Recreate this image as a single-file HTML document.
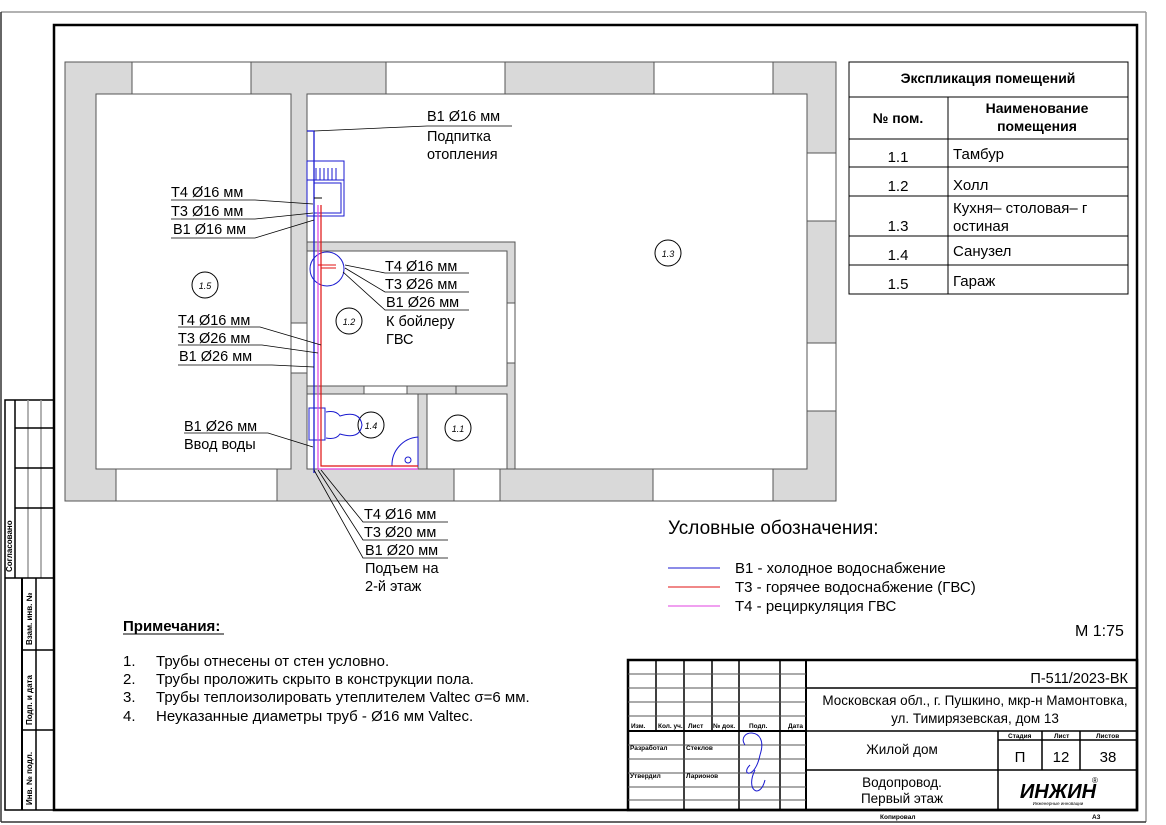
<!DOCTYPE html>
<html><head><meta charset="utf-8"><style>
html,body{margin:0;padding:0;background:#fff}
svg{display:block}
text{font-family:"Liberation Sans",sans-serif;fill:#000}
</style></head><body>
<svg width="1166" height="825" viewBox="0 0 1166 825" xmlns="http://www.w3.org/2000/svg">
<line x1="1" y1="12" x2="1146" y2="12" stroke="#999" stroke-width="1.5"/>
<line x1="1146" y1="12" x2="1146" y2="822" stroke="#999" stroke-width="1.5"/>
<line x1="1" y1="12" x2="1" y2="822" stroke="#333" stroke-width="1.5"/>
<line x1="1" y1="822" x2="1146" y2="822" stroke="#333" stroke-width="1.5"/>
<rect x="54" y="25" width="1083" height="785" fill="none" stroke="#000" stroke-width="2.5"/>
<g stroke="#000" fill="none" stroke-width="1.5">
<rect x="5" y="400" width="49" height="410"/>
<line x1="15" y1="400" x2="15" y2="578"/>
<line x1="28" y1="400" x2="28" y2="578" stroke="#999"/>
<line x1="41" y1="400" x2="41" y2="578" stroke="#999"/>
<line x1="15" y1="428" x2="54" y2="428"/>
<line x1="15" y1="468" x2="54" y2="468"/>
<line x1="15" y1="508" x2="54" y2="508"/>
<line x1="5" y1="578" x2="54" y2="578"/>
<line x1="22" y1="578" x2="22" y2="810" stroke-width="2"/>
<line x1="36" y1="578" x2="36" y2="810"/>
<line x1="22" y1="650" x2="54" y2="650"/>
<line x1="22" y1="730" x2="54" y2="730"/>
</g>
<g font-size="8" font-weight="bold">
<text transform="translate(12,572) rotate(-90)">Согласовано</text>
<text transform="translate(32,645) rotate(-90)">Взам. инв. №</text>
<text transform="translate(32,725) rotate(-90)">Подп. и дата</text>
<text transform="translate(32,805) rotate(-90)">Инв. № подл.</text>
</g>

<rect x="65" y="62" width="771" height="439" fill="#d9d9d9" stroke="#555" stroke-width="1"/>
<g fill="#fff" stroke="#555" stroke-width="1">
<rect x="132" y="62" width="119" height="32"/>
<rect x="386" y="62" width="119" height="32"/>
<rect x="654" y="62" width="119" height="32"/>
<rect x="116" y="469" width="161" height="32"/>
<rect x="454" y="469" width="46" height="32"/>
<rect x="653" y="469" width="120" height="32"/>
<rect x="807" y="153" width="29" height="68"/>
<rect x="807" y="343" width="29" height="68"/>
<rect x="96" y="94" width="195" height="375"/>
<rect x="307" y="94" width="500" height="375"/>
</g>
<path d="M307 242 H515 V469 H307 Z" fill="#d9d9d9" stroke="#555"/>
<g fill="#fff" stroke="#555" stroke-width="1">
<rect x="307" y="251" width="200" height="135"/>
<rect x="307" y="394" width="111" height="75"/>
<rect x="427" y="394" width="80" height="75"/>
<rect x="364" y="386" width="43" height="8"/>
<rect x="291" y="323" width="16" height="50"/>
<rect x="507" y="303" width="8" height="60"/>
</g>
<rect x="407" y="386" width="49" height="8" fill="#d9d9d9" stroke="#555"/>
<g fill="#fff" stroke="#000" stroke-width="1">
<circle cx="205" cy="285" r="13"/><circle cx="349" cy="321" r="13"/>
<circle cx="668" cy="253" r="13"/><circle cx="371" cy="425" r="13"/>
<circle cx="458" cy="428" r="13"/>
</g>
<g font-size="9" font-style="italic" fill="#444" text-anchor="middle">
<text x="205" y="289">1.5</text><text x="349" y="325">1.2</text>
<text x="668" y="257">1.3</text><text x="371" y="429">1.4</text><text x="458" y="432">1.1</text>
</g>
<g fill="none" stroke="#1a1ad0" stroke-width="1">
<rect x="307" y="161" width="37" height="55"/>
<rect x="314" y="183" width="27" height="30"/>
<path d="M307 180 H344 M316 168 V180 M320 168 V180 M324 168 V180 M328 168 V180 M332 168 V180 M336 168 V180"/>
<circle cx="327" cy="269" r="17"/>
<rect x="309" y="408" width="16" height="32"/>
<path d="M326 412 Q336 410 340 416 Q360 410 362 425 Q360 440 340 434 Q336 440 326 438"/>
<path d="M418 437 A28 28 0 0 0 392 466 L418 466 Z"/>
<circle cx="408" cy="460" r="3"/>
</g>
<path d="M307 131 H314 V473" stroke="#1a1ad0" stroke-width="1.3" fill="none"/>
<path d="M318 205 V469 H418" stroke="#e040e0" stroke-width="1.2" fill="none"/>
<path d="M321 205 V466 H418" stroke="#e01010" stroke-width="1.2" fill="none"/>
<path d="M318 265 H336 M321 268 H336" stroke="#e01010" stroke-width="1"/>
<path d="M314 198 H322" stroke="#000" stroke-width="1"/>
<g stroke="#000" stroke-width="0.8" fill="none">
<path d="M314 131 L427 126 H512"/>
<path d="M171 200 H255 L313 204"/>
<path d="M171 219 H255 L313 213"/>
<path d="M171 238 H255 L314 220"/>
<path d="M345 265 L385 273 H469"/>
<path d="M345 268 L385 292 H469"/>
<path d="M343 272 L385 310 H469"/>
<path d="M178 327 H260 L321 345"/>
<path d="M178 345 H262 L318 353"/>
<path d="M178 365 H272 L314 367"/>
<path d="M184 433 H268 L313 447"/>
<path d="M321 470 L363 522 H448"/>
<path d="M318 470 L363 540 H448"/>
<path d="M314 470 L363 558 H448"/>
</g>
<g font-size="14.5">
<text x="427" y="121">В1 Ø16 мм</text>
<text x="427" y="141">Подпитка</text>
<text x="427" y="159">отопления</text>
<text x="171" y="197">Т4 Ø16 мм</text>
<text x="171" y="216">Т3 Ø16 мм</text>
<text x="173" y="234">В1 Ø16 мм</text>
<text x="385" y="271">Т4 Ø16 мм</text>
<text x="385" y="289">Т3 Ø26 мм</text>
<text x="386" y="307">В1 Ø26 мм</text>
<text x="386" y="326">К бойлеру</text>
<text x="386" y="344">ГВС</text>
<text x="178" y="325">Т4 Ø16 мм</text>
<text x="178" y="343">Т3 Ø26 мм</text>
<text x="179" y="361">В1 Ø26 мм</text>
<text x="184" y="431">В1 Ø26 мм</text>
<text x="184" y="449">Ввод воды</text>
<text x="364" y="519">Т4 Ø16 мм</text>
<text x="364" y="537">Т3 Ø20 мм</text>
<text x="365" y="555">В1 Ø20 мм</text>
<text x="365" y="573">Подъем на</text>
<text x="365" y="591">2-й этаж</text>
</g>
<g stroke="#000" stroke-width="1" fill="none">
<rect x="849" y="62" width="279" height="232"/>
<path d="M849 97 H1128 M849 139 H1128 M849 167 H1128 M849 196 H1128 M849 236 H1128 M849 265 H1128 M948 97 V294"/>
</g>
<text x="988" y="83" font-size="14" font-weight="bold" text-anchor="middle">Экспликация помещений</text>
<text x="898" y="123" font-size="14" font-weight="bold" text-anchor="middle">№ пом.</text>
<text x="1037" y="113" font-size="14" font-weight="bold" text-anchor="middle">Наименование</text>
<text x="1037" y="131" font-size="14" font-weight="bold" text-anchor="middle">помещения</text>
<g font-size="15" fill="#222">
<text x="898" y="162" text-anchor="middle">1.1</text><text x="953" y="159">Тамбур</text>
<text x="898" y="191" text-anchor="middle">1.2</text><text x="953" y="190">Холл</text>
<text x="898" y="231" text-anchor="middle">1.3</text><text x="953" y="213">Кухня– столовая– г</text><text x="953" y="231">остиная</text>
<text x="898" y="260" text-anchor="middle">1.4</text><text x="953" y="256">Санузел</text>
<text x="898" y="289" text-anchor="middle">1.5</text><text x="953" y="286">Гараж</text>
</g>
<text x="668" y="534" font-size="19">Условные обозначения:</text>
<line x1="668" y1="568" x2="720" y2="568" stroke="#1a1ad0"/>
<line x1="668" y1="587" x2="720" y2="587" stroke="#e01010"/>
<line x1="668" y1="606" x2="720" y2="606" stroke="#e040e0"/>
<g font-size="15"><text x="735" y="573">В1 - холодное водоснабжение</text>
<text x="735" y="592">Т3 - горячее водоснабжение (ГВС)</text>
<text x="735" y="611">Т4 - рециркуляция ГВС</text>
<text x="1075" y="636" font-size="16">М 1:75</text></g>
<text x="123" y="631" font-size="15" font-weight="bold">Примечания:</text>
<line x1="123" y1="634" x2="224" y2="634" stroke="#000"/>
<g font-size="15">
<text x="123" y="666">1.</text><text x="156" y="666">Трубы отнесены от стен условно.</text>
<text x="123" y="684">2.</text><text x="156" y="684">Трубы проложить скрыто в конструкции пола.</text>
<text x="123" y="702">3.</text><text x="156" y="702">Трубы теплоизолировать утеплителем Valtec σ=6 мм.</text>
<text x="123" y="721">4.</text><text x="156" y="721">Неуказанные диаметры труб - Ø16 мм Valtec.</text>
</g>
<g stroke="#000" fill="none" stroke-width="1.5">
<rect x="628" y="660" width="509" height="150" stroke-width="2.5"/>
<path d="M806 660 V810" stroke-width="2"/>
<path d="M656 660 V731 M684 660 V810 M712 660 V731 M739 660 V810 M780 660 V810"/>
<path d="M628 731 H806" stroke-width="2"/>
<path d="M628 674 H806 M628 688 H806 M628 702 H806 M628 716 H806 M628 745 H806 M628 759 H806 M628 773 H806 M628 787 H806 M628 800 H806" stroke="#555" stroke-width="1"/>
<path d="M806 688 H1137 M806 731 H1137 M806 770 H1137"/>
<path d="M998 731 V810 M1042 731 V770 M1080 731 V770 M998 740 H1137"/>
</g>
<g font-size="6.5" font-weight="bold">
<text x="631" y="728">Изм.</text><text x="658" y="728">Кол. уч.</text><text x="688" y="728">Лист</text><text x="713" y="728">№ док.</text><text x="749" y="728">Подп.</text><text x="788" y="728">Дата</text>
<text x="630" y="750">Разработал</text><text x="686" y="750">Стеклов</text>
<text x="630" y="778">Утвердил</text><text x="686" y="778">Ларионов</text>
<text x="1008" y="738">Стадия</text><text x="1054" y="738">Лист</text><text x="1096" y="738">Листов</text>
<text x="880" y="819">Копировал</text><text x="1092" y="819">А3</text>
</g>
<path d="M745 745 C735 730 770 725 760 755 C755 780 740 775 750 765 M755 770 C745 790 760 800 765 780" stroke="#1a1ad0" fill="none"/>
<text x="1128" y="683" font-size="14.5" text-anchor="end">П-511/2023-ВК</text>
<text x="975" y="705" font-size="13.5" text-anchor="middle">Московская обл., г. Пушкино, мкр-н Мамонтовка,</text>
<text x="975" y="723" font-size="13.5" text-anchor="middle">ул. Тимирязевская, дом 13</text>
<text x="902" y="754" font-size="13.5" text-anchor="middle">Жилой дом</text>
<text x="902" y="787" font-size="13.5" text-anchor="middle">Водопровод.</text>
<text x="902" y="803" font-size="13.5" text-anchor="middle">Первый этаж</text>
<text x="1020" y="762" font-size="15" text-anchor="middle">П</text>
<text x="1061" y="762" font-size="15" text-anchor="middle">12</text>
<text x="1108" y="762" font-size="15" text-anchor="middle">38</text>
<text x="1058" y="798" font-size="20" font-weight="bold" font-style="italic" text-anchor="middle">ИНЖИН</text>
<text x="1092" y="783" font-size="8">®</text>
<text x="1058" y="805" font-size="4.5" fill="#3a3" text-anchor="middle">Инженерные инновации</text>
</svg>
</body></html>
